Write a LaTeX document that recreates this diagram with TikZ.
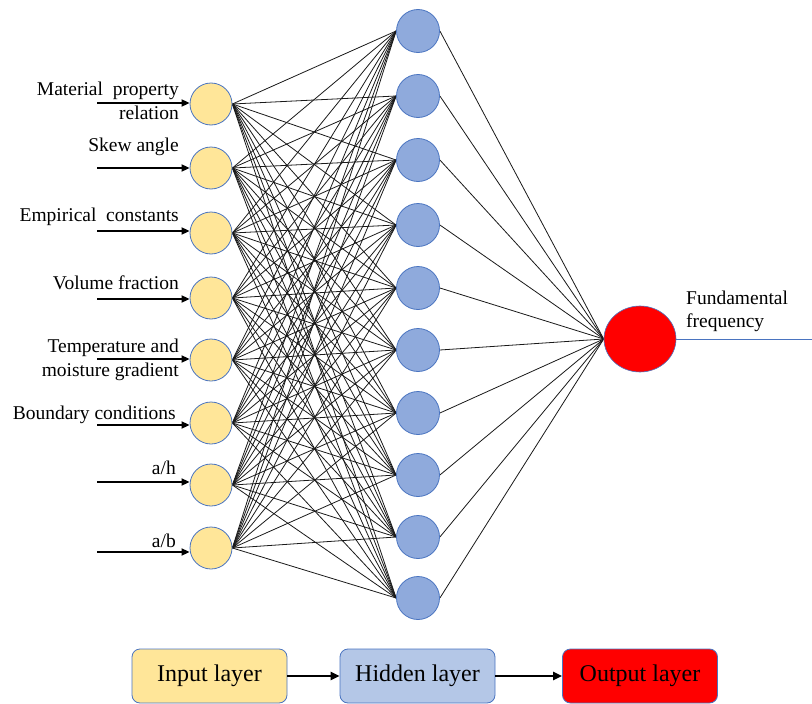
\documentclass[tikz,border=0pt]{standalone}
\usepackage{fontspec}
\setmainfont{Liberation Serif}
\newfontfamily\tnr{Liberation Serif}
\usetikzlibrary{arrows.meta,shapes.geometric}
\pgfdeclarelayer{edges}
\pgfsetlayers{edges,main}
\definecolor{inyellow}{HTML}{FFE699}
\definecolor{hidblue}{HTML}{8FAADC}
\definecolor{rimblue}{HTML}{4A74C0}
\definecolor{legblue}{HTML}{B4C7E7}
\definecolor{outred}{HTML}{FF0000}
\begin{document}
\begin{tikzpicture}[x=1pt,y=-1pt,
  innode/.style={circle,draw=rimblue,line width=0.8pt,fill=inyellow,minimum size=42pt,inner sep=0pt},
  hidnode/.style={circle,draw=rimblue,line width=0.8pt,fill=hidblue,minimum size=43pt,inner sep=0pt},
  outnode/.style={ellipse,draw=rimblue,line width=0.6pt,fill=outred,minimum width=72pt,minimum height=66pt,inner sep=0pt},
  conn/.style={line width=0.8pt,black!90},
  feed/.style={line width=1.7pt,-{Triangle[length=8pt,width=7pt]}},
  lbl/.style={font=\tnr\fontsize{19.5}{24}\selectfont,anchor=east,align=right,inner sep=0pt},
  legbox/.style={draw=rimblue,line width=0.8pt,rounded corners=8pt,minimum width=155pt,minimum height=54pt,inner sep=0pt,font=\tnr\fontsize{24}{28}\selectfont},
  legarrow/.style={line width=2.2pt,-{Triangle[length=9pt,width=8pt]}}
]
\useasboundingbox (0,0) rectangle (812,704);

% input nodes
\foreach \n/\y in {1/104,2/168,3/233,4/298,5/360,6/423,7/485,8/548}{
  \node[innode] (in\n) at (211,\y) {};
}
% hidden nodes
\foreach \n/\y in {1/31,2/96,3/160,4/225,5/288,6/350,7/413,8/475,9/537,10/598}{
  \node[hidnode] (h\n) at (418,\y) {};
}
% output node
\node[outnode] (out) at (640,339) {};
\coordinate (outend) at (812,339);

% connections (under the nodes)
\begin{pgfonlayer}{edges}
\foreach \i in {1,...,8}{
  \foreach \j in {1,...,10}{
    \draw[conn] (in\i.east) -- (h\j.west);
  }
}
\foreach \j in {1,...,10}{
  \draw[conn] (h\j.east) -- (out.west);
}
\end{pgfonlayer}
\draw[rimblue,line width=0.9pt] (out.east) -- (outend);

% input arrows
\foreach \n/\y in {1/103,2/168,3/231,4/299,5/359,6/425,7/482,8/552}{
  \coordinate (src\n) at (97,\y);
  \draw[feed] (src\n) -- (src\n -| in\n.west);
}

% labels
\node[lbl] (l1) at (179,101) {Material\ \ property\\relation};
\node[lbl] (l2) at (179,147) {Skew angle};
\node[lbl] (l3) at (179,217) {Empirical\ \ constants};
\node[lbl] (l4) at (179,283) {Volume fraction};
\node[lbl] (l5) at (179,360) {Temperature and\\moisture gradient};
\node[lbl] (l6) at (176,415) {Boundary conditions};
\node[lbl] (l7) at (176,468) {a/h};
\node[lbl] (l8) at (176,541) {a/b};
\node[font=\tnr\fontsize{19.5}{23}\selectfont,anchor=west,align=left,inner sep=0pt] (l9) at (686,311) {Fundamental\\frequency};

% legend
\node[legbox,fill=inyellow] (lin) at (209.5,676) {Input layer};
\node[legbox,fill=legblue] (lhid) at (417.5,676) {Hidden layer};
\node[legbox,fill=outred] (lout) at (640,676) {Output layer};
\draw[legarrow] (lin.east) -- (lhid.west);
\draw[legarrow] (lhid.east) -- (lout.west);
\end{tikzpicture}
\end{document}
